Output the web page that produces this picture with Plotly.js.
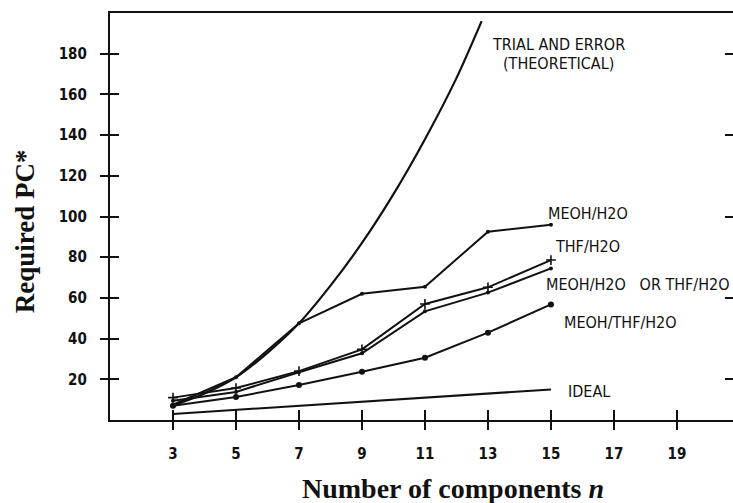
<!DOCTYPE html>
<html>
<head>
<meta charset="utf-8">
<script src="https://cdn.plot.ly/plotly-3.0.1.min.js"></script>
<style>
  html, body { margin: 0; padding: 0; background: #fff; }
  #chart { width: 733px; height: 503px; }
</style>
</head>
<body>
<div id="chart"></div>
<script>
// Required peak capacity versus number of components
const trialN   = [3, 4, 5, 6, 7, 8, 9, 10, 11, 12, 12.8];
const trialPC  = [7, 13, 21, 33, 47.5, 66, 87, 111, 138, 168, 196];

const nSteps         = [3, 5, 7, 9, 11, 13, 15];
const meohH2O        = [7.5, 21, 47.5, 62, 65.5, 92.5, 96];
const thfH2O         = [11, 15.7, 24, 34.7, 57, 65.2, 78.6];
const meohOrThfH2O   = [9.5, 13.8, 23.5, 32.8, 53.4, 62.6, 74.5];
const meohThfH2O     = [7, 11.3, 17.2, 23.7, 30.6, 42.9, 56.8];
const idealPC        = [3, 5, 7, 9, 11, 13, 15];

const xTicks  = [3, 5, 7, 9, 11, 13, 15, 17, 19];
const yTicks  = [20, 40, 60, 80, 100, 120, 140, 160, 180];
const yTicksRight = [20, 60, 100, 140, 180];

const ink = '#111';
const plotFont = 'DejaVu Sans Condensed, Liberation Sans Narrow, sans-serif';
const serif = 'Liberation Serif, Times New Roman, serif';

const lineStyle = { color: ink, width: 2 };

const traces = [
  { x: trialN, y: trialPC, mode: 'lines', line: { color: ink, width: 2.2, shape: 'spline', smoothing: 0.8 } },
  { x: nSteps, y: meohH2O, mode: 'lines+markers', line: lineStyle, marker: { color: ink, size: 4 } },
  { x: nSteps, y: thfH2O, mode: 'lines+markers', line: lineStyle,
    marker: { symbol: 'cross-thin', size: 7, line: { color: ink, width: 1.6 } } },
  { x: nSteps, y: meohOrThfH2O, mode: 'lines+markers', line: lineStyle, marker: { color: ink, size: 4 } },
  { x: nSteps, y: meohThfH2O, mode: 'lines+markers', line: lineStyle, marker: { color: ink, size: 6 },
    yaxis: 'y3' },
  { x: nSteps, y: idealPC, mode: 'lines', line: lineStyle, xaxis: 'x2', yaxis: 'y2' }
];

const xRange = [1, 20.78];
const yRange = [0, 200];

const tickFont = { family: plotFont, size: 15, color: ink, weight: 'bold' };
const labelFont = { family: plotFont, size: 16, color: ink };

const curveLabels = [
  { text: 'TRIAL AND ERROR', x: 15.25, y: 184.3, xanchor: 'center' },
  { text: '(THEORETICAL)', x: 15.25, y: 175.4, xanchor: 'center' },
  { text: 'MEOH/H2O', x: 14.84, y: 101.7, xanchor: 'left' },
  { text: 'THF/H2O', x: 15.08, y: 85.1, xanchor: 'left' },
  { text: 'MEOH/H2O\u00a0\u00a0\u00a0OR THF/H2O', x: 14.78, y: 66.8, xanchor: 'left' },
  { text: 'MEOH/THF/H2O', x: 15.35, y: 47.7, xanchor: 'left' },
  { text: 'IDEAL', x: 15.48, y: 13.8, xanchor: 'left' }
].map(a => Object.assign({
  xref: 'x', yref: 'y', yanchor: 'middle', showarrow: false, font: labelFont
}, a));

const layout = {
  width: 733, height: 503,
  margin: { l: 110, r: 0, t: 13, b: 83 },
  paper_bgcolor: '#fff', plot_bgcolor: '#fff',
  showlegend: false,
  font: { family: plotFont, size: 15, color: ink },
  xaxis: {
    range: xRange, tickvals: xTicks, ticks: 'outside', ticklen: 8, tickwidth: 2, tickcolor: ink,
    showline: true, linecolor: ink, linewidth: 2.2, mirror: true, showgrid: false, zeroline: false,
    ticklabelstandoff: 11, tickfont: tickFont
  },
  yaxis: {
    range: yRange, tickvals: yTicks, ticks: 'outside', ticklen: 8, tickwidth: 2, tickcolor: ink,
    showline: true, linecolor: ink, linewidth: 2.2, showgrid: false, zeroline: false,
    ticklabelstandoff: 10, tickfont: tickFont
  },
  xaxis2: {
    range: xRange, overlaying: 'x', anchor: 'y2', tickvals: xTicks, ticks: 'inside', ticklen: 10,
    tickwidth: 2, tickcolor: ink, showticklabels: false, showline: false, showgrid: false, zeroline: false
  },
  yaxis2: {
    range: yRange, overlaying: 'y', anchor: 'x2', tickvals: yTicks, ticks: 'inside', ticklen: 9,
    tickwidth: 2, tickcolor: ink, showticklabels: false, showline: false, showgrid: false, zeroline: false
  },
  yaxis3: {
    range: yRange, overlaying: 'y', side: 'right', anchor: 'x', tickvals: yTicksRight, ticks: 'inside',
    ticklen: 8, tickwidth: 2, tickcolor: ink, showticklabels: false, showline: false, showgrid: false, zeroline: false
  },
  annotations: curveLabels.concat([
    { text: '<b>Required PC*</b>', xref: 'paper', yref: 'paper', x: -0.1364, y: 0.464,
      textangle: -90, showarrow: false, xanchor: 'center', yanchor: 'middle',
      font: { family: serif, size: 27, color: ink } },
    { text: '<b>Number of components <i>n</i></b>', xref: 'paper', yref: 'paper', x: 0.5506, y: -0.1695,
      showarrow: false, xanchor: 'center', yanchor: 'middle',
      font: { family: serif, size: 28, color: ink } }
  ])
};

Plotly.newPlot('chart', traces, layout, { staticPlot: true, displayModeBar: false });
</script>
</body>
</html>
